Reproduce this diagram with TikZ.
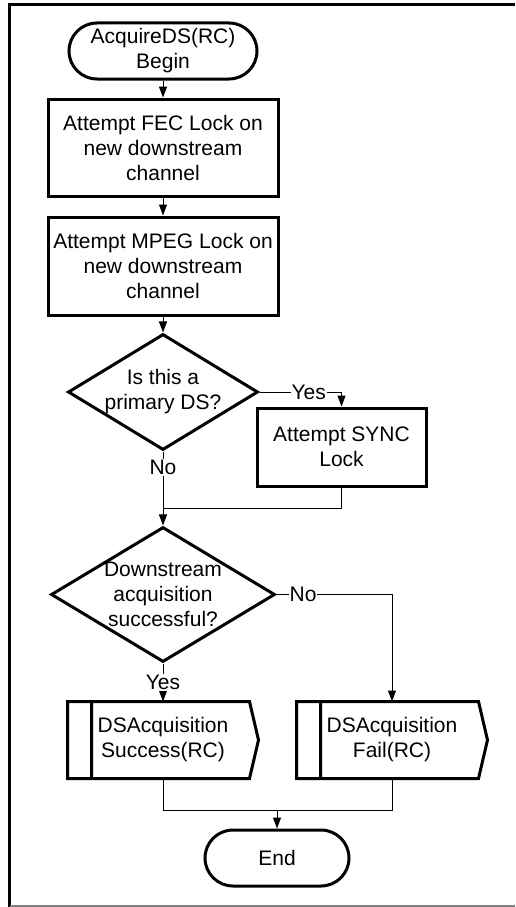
\documentclass[tikz,border=0pt]{standalone}
\usepackage{fontspec}
\setmainfont{Liberation Sans}
\usetikzlibrary{positioning,arrows.meta,shapes.geometric}
\newcommand{\subproc}[1]{\draw[line width=3pt,line join=miter] (#1.north west) -- ([xshift=-9pt]#1.north east) -- (#1.east) -- ([xshift=-9pt]#1.south east) -- (#1.south west) -- cycle
  ([xshift=24pt]#1.north west) -- ([xshift=24pt]#1.south west);}

\begin{document}
\begin{tikzpicture}[x=1pt,y=1pt,every node/.style={font=\fontsize{21}{25}\selectfont,align=center}]
\tikzstyle{term}=[draw,line width=3pt,rounded corners=28pt,minimum height=56pt,inner sep=0pt]
\tikzstyle{box}=[draw,line width=3pt,minimum width=230pt,inner sep=0pt]
\tikzstyle{decide}=[draw,diamond,shape aspect=1.65,line width=3pt,inner sep=-10pt]
\tikzstyle{call}=[minimum width=191pt,minimum height=77pt,inner sep=0pt,outer sep=0pt]
\tikzstyle{line}=[line width=1pt]
\tikzstyle{arrow}=[line width=1pt,-{Triangle[length=11pt,width=8pt]}]
\tikzstyle{lab}=[fill=white,inner sep=1pt]
\useasboundingbox (0,0) rectangle (515,-907);
\draw[line width=3pt] (9.5,-907) -- (9.5,-4.5) -- (515,-4.5);
\draw[gray,line width=1.5pt] (9.5,-906) -- (515,-906);
\node[term,minimum width=188pt] (begin) at (163,-51) {AcquireDS(RC)\\Begin};
\node[box,minimum height=97pt,below=17pt of begin] (fec) {Attempt FEC Lock on\\new downstream\\channel};
\node[box,minimum height=98pt,below=18pt of fec] (mpeg) {Attempt MPEG Lock on\\new downstream\\channel};
\node[decide,minimum width=190pt,minimum height=116pt,below=16pt of mpeg] (prim) {Is this a\\primary DS?};
\node[box,minimum width=169pt,minimum height=78pt] (sync) at (341.5,-447) {Attempt SYNC\\Lock};
\node[decide,minimum width=224pt,minimum height=135pt,below=74pt of prim] (acq) {Downstream\\acquisition\\successful?};
\node[call,below=38pt of acq] (ok) {DSAcquisition\\Success(RC)};
\node[call,right=38pt of ok] (fail) {DSAcquisition\\Fail(RC)};
\node[term,minimum width=144pt] (end) at (277,-858) {End};
\subproc{ok}
\subproc{fail}
\draw[arrow] (begin) -- (fec);
\draw[arrow] (fec) -- (mpeg);
\draw[arrow] (mpeg) -- (prim);
\draw[arrow] (prim.east) -| node[lab,pos=.3]{Yes} (sync.north);
\draw[arrow] (prim) -- node[lab,pos=.22]{No} (acq);
\coordinate (merge) at ([yshift=-57pt]prim.south);
\draw[line] (sync) |- (merge);
\draw[arrow] (acq.east) -| node[lab,pos=.115]{No} (fail.north);
\draw[arrow] (acq) -- node[lab]{Yes} (ok);
\coordinate (join) at ([yshift=18pt]end.north);
\draw[line] (ok) |- (join) -| (fail);
\draw[arrow] (join) -- (end);
\end{tikzpicture}
\end{document}
